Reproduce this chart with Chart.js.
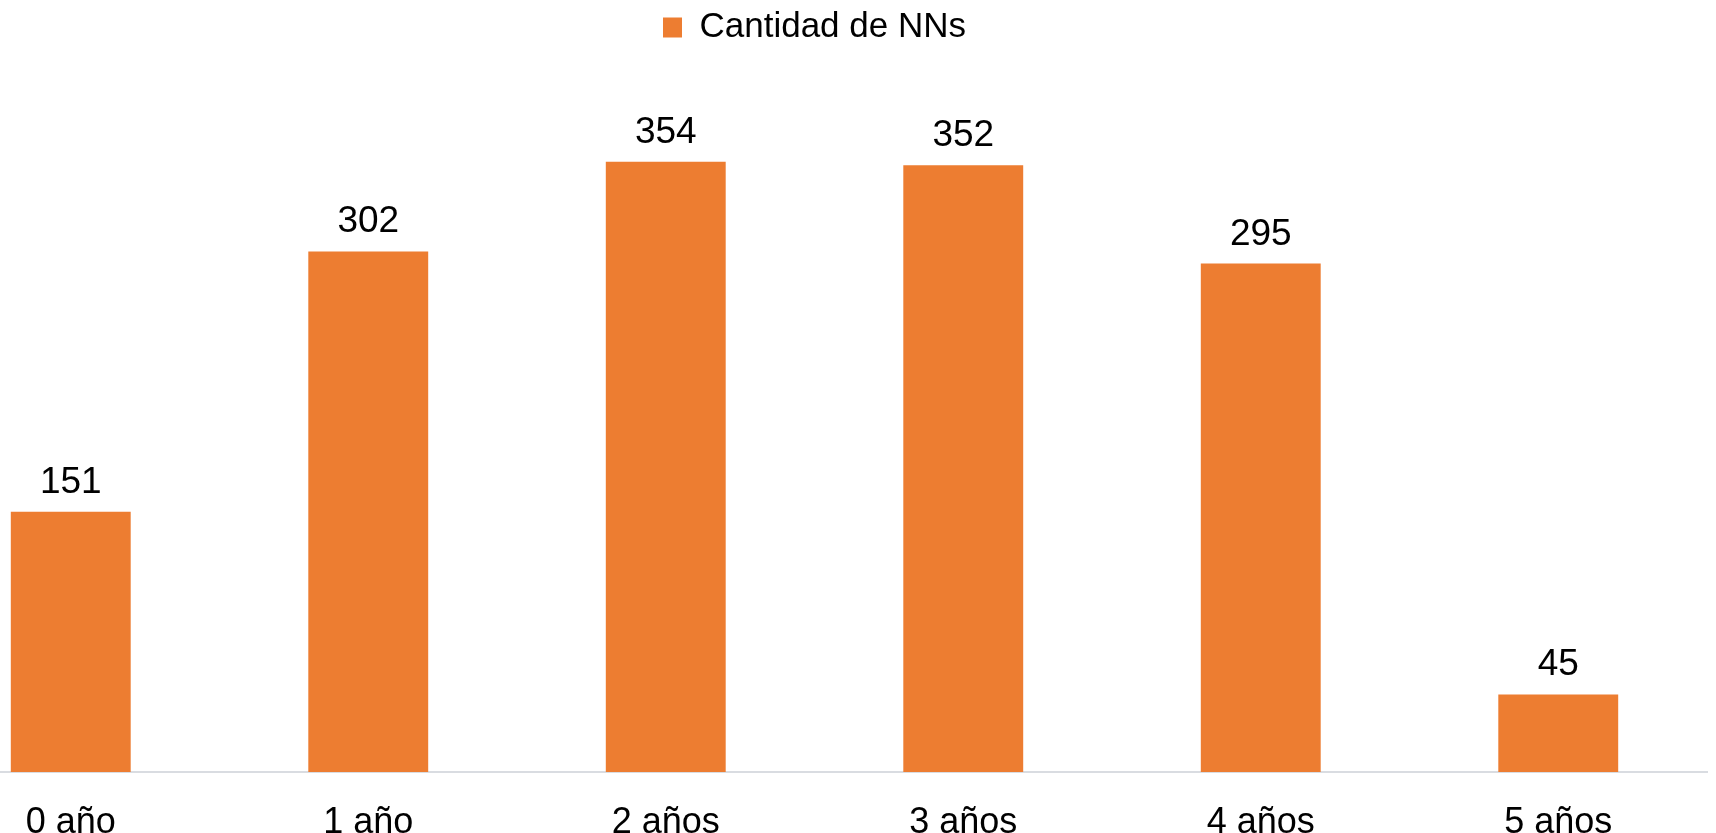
<!DOCTYPE html>
<html>
<head>
<meta charset="utf-8">
<script src="https://cdn.jsdelivr.net/npm/chart.js@4/dist/chart.umd.min.js"></script>
<style>
  html, body { margin: 0; padding: 0; background: #fff; overflow: hidden; width: 1716px; height: 833px; }
  #wrap { position: absolute; left: -78px; top: 0; width: 1798px; height: 850px; }
</style>
</head>
<body>
<div id="wrap"><canvas id="myChart"></canvas></div>
<script>
const labels = ['0 año', '1 año', '2 años', '3 años', '4 años', '5 años'];
const cantidad = [151, 302, 354, 352, 295, 45];
const seriesName = 'Cantidad de NNs';

const fontFamily = '"Liberation Sans", Arial, sans-serif';

// draws the value above each bar
const valueLabels = {
  id: 'valueLabels',
  afterDatasetsDraw(chart) {
    const ctx = chart.ctx;
    const meta = chart.getDatasetMeta(0);
    ctx.save();
    ctx.font = '37px ' + fontFamily;
    ctx.fillStyle = '#000';
    ctx.textAlign = 'center';
    ctx.textBaseline = 'alphabetic';
    meta.data.forEach((bar, i) => {
      ctx.fillText(cantidad[i], bar.x, bar.y - 19);
    });
    ctx.restore();
  }
};

const ctx = document.getElementById('myChart');
const myChart = new Chart(ctx, {
  type: 'bar',
  data: {
    labels: labels,
    datasets: [{
      label: seriesName,
      data: cantidad,
      backgroundColor: '#ED7D31',
      categoryPercentage: 1,
      barPercentage: 0.403
    }]
  },
  options: {
    responsive: true,
    maintainAspectRatio: false,
    animation: false,
    layout: { padding: { top: 8, right: 13, left: 0, bottom: 0 } },
    plugins: {
      legend: {
        position: 'top',
        labels: {
          boxWidth: 19,
          boxHeight: 20,
          padding: 2,
          color: '#000',
          font: { family: fontFamily, size: 35 }
        }
      },
      tooltip: { enabled: false }
    },
    scales: {
      x: {
        grid: { display: false, drawTicks: false },
        border: { display: true, color: '#D9DCE1', width: 2 },
        ticks: { color: '#000', padding: 29, font: { family: fontFamily, size: 36 } },
        afterFit(scale) { scale.height = 78; }
      },
      y: {
        display: false,
        min: 0,
        max: 416
      }
    }
  },
  plugins: [valueLabels]
});
</script>
</body>
</html>
